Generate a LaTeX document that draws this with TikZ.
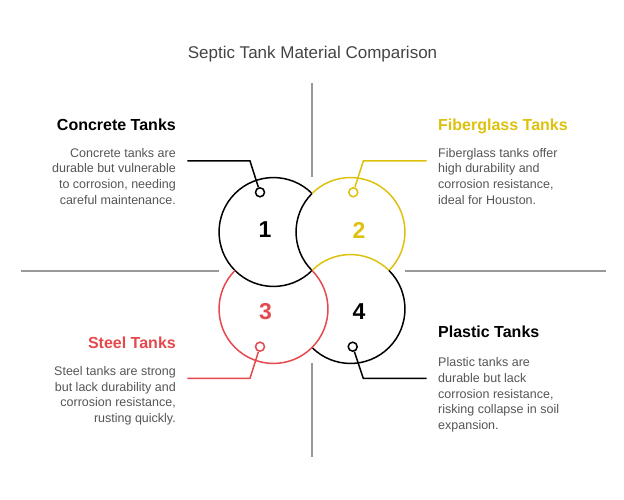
\documentclass[tikz,border=0pt]{standalone}
\usepackage{fontspec}
\setmainfont{Liberation Sans}
\definecolor{tankgray}{HTML}{555555}
\definecolor{titlegray}{HTML}{444444}
\definecolor{tankyellow}{HTML}{DDC10E}
\definecolor{tankred}{HTML}{E5484D}
\definecolor{axisgray}{HTML}{999999}
\tikzset{
    ring/.style={line width=1.5pt},
    marker/.style={circle, draw=#1, line width=1.5pt, fill=white, minimum size=9pt, inner sep=0pt},
    marker/.default=black,
    leader/.style={line width=1.5pt},
    axisline/.style={line width=2pt, axisgray},
    heading/.style={font=\fontsize{16}{19}\selectfont\bfseries, inner sep=0pt},
    body/.style={font=\fontsize{12.5}{15.7}\selectfont, text=tankgray, inner sep=0pt},
    number/.style={font=\fontsize{23}{27}\selectfont\bfseries, inner sep=0pt},
}
\begin{document}
\begin{tikzpicture}[x=1pt, y=1pt]
    \useasboundingbox (0,0) rectangle (624,499);
    \def\ra{54.45pt}
    %title
    \node[font=\fontsize{17}{20}\selectfont, text=titlegray, inner sep=0pt, anchor=base] (title) at (312.5,440) {Septic Tank Material Comparison};
    %draw gray cross
    \coordinate (up1) at (312,416);
    \coordinate (up2) at (312,322);
    \coordinate (dn1) at (312,136.3);
    \coordinate (dn2) at (312,42.3);
    \coordinate (lt1) at (21,228.5);
    \coordinate (lt2) at (219,228.5);
    \coordinate (rt1) at (405,228.5);
    \coordinate (rt2) at (606,228.5);
    \draw[axisline] (up1) -- (up2);
    \draw[axisline] (dn1) -- (dn2);
    \draw[axisline] (lt1) -- (lt2);
    \draw[axisline] (rt1) -- (rt2);
    %centres of the four circles
    \coordinate (c1) at (273.5,267);
    \coordinate (c2) at (350.5,267);
    \coordinate (c3) at (273.5,190);
    \coordinate (c4) at (350.5,190);
    %draw circle outlines
    \draw[ring] (c1) ++(45:\ra) arc[start angle=45, end angle=315, radius=\ra];
    \draw[ring] (c2) ++(135:\ra) arc[start angle=135, end angle=225, radius=\ra];
    \draw[ring, tankyellow] (c2) ++(-45:\ra) arc[start angle=-45, end angle=135, radius=\ra];
    \draw[ring, tankyellow] (c4) ++(45:\ra) arc[start angle=45, end angle=135, radius=\ra];
    \draw[ring] (c4) ++(225:\ra) arc[start angle=225, end angle=405, radius=\ra];
    \draw[ring, tankred] (c3) ++(135:\ra) arc[start angle=135, end angle=405, radius=\ra];
    %numbers
    \node[number] (n1) at (265,269) {1};
    \node[number, text=tankyellow] (n2) at (359,269) {2};
    \node[number, text=tankred] (n3) at (265.5,187.3) {3};
    \node[number] (n4) at (359,187.3) {4};
    %markers and leaders
    \node[marker] (m1) at (260,306.7) {};
    \node[marker=tankyellow] (m2) at (353.3,306.7) {};
    \node[marker=tankred] (m3) at (260,152.3) {};
    \node[marker] (m4) at (352.7,152.3) {};
    \coordinate (k1) at (250,338);
    \coordinate (e1) at (187.3,338);
    \coordinate (k2) at (363.3,338);
    \coordinate (e2) at (426.7,338);
    \coordinate (k3) at (250,120.7);
    \coordinate (e3) at (187.3,120.7);
    \coordinate (k4) at (363.3,120.7);
    \coordinate (e4) at (426.7,120.7);
    \draw[leader] (m1) -- (k1) -- (e1);
    \draw[leader, tankyellow] (m2) -- (k2) -- (e2);
    \draw[leader, tankred] (m3) -- (k3) -- (e3);
    \draw[leader] (m4) -- (k4) -- (e4);
    %headings
    \node[heading, anchor=base east] (concrete) at (176,368) {Concrete Tanks};
    \node[heading, anchor=base west, text=tankyellow] (fiberglass) at (438,368) {Fiberglass Tanks};
    \node[heading, anchor=base east, text=tankred] (steel) at (176,151) {Steel Tanks};
    \node[heading, anchor=base west] (plastic) at (438,162) {Plastic Tanks};
    %descriptions (base = last line)
    \node[body, align=right, anchor=base east] (concretetext) at (176,294.6) {Concrete tanks are\\durable but vulnerable\\to corrosion, needing\\careful maintenance.};
    \node[body, align=left, anchor=base west] (fiberglasstext) at (438,294.6) {Fiberglass tanks offer\\high durability and\\corrosion resistance,\\ideal for Houston.};
    \node[body, align=right, anchor=base east] (steeltext) at (176,76.5) {Steel tanks are strong\\but lack durability and\\corrosion resistance,\\rusting quickly.};
    \node[body, align=left, anchor=base west] (plastictext) at (438,69.5) {Plastic tanks are\\durable but lack\\corrosion resistance,\\risking collapse in soil\\expansion.};
\end{tikzpicture}
\end{document}
